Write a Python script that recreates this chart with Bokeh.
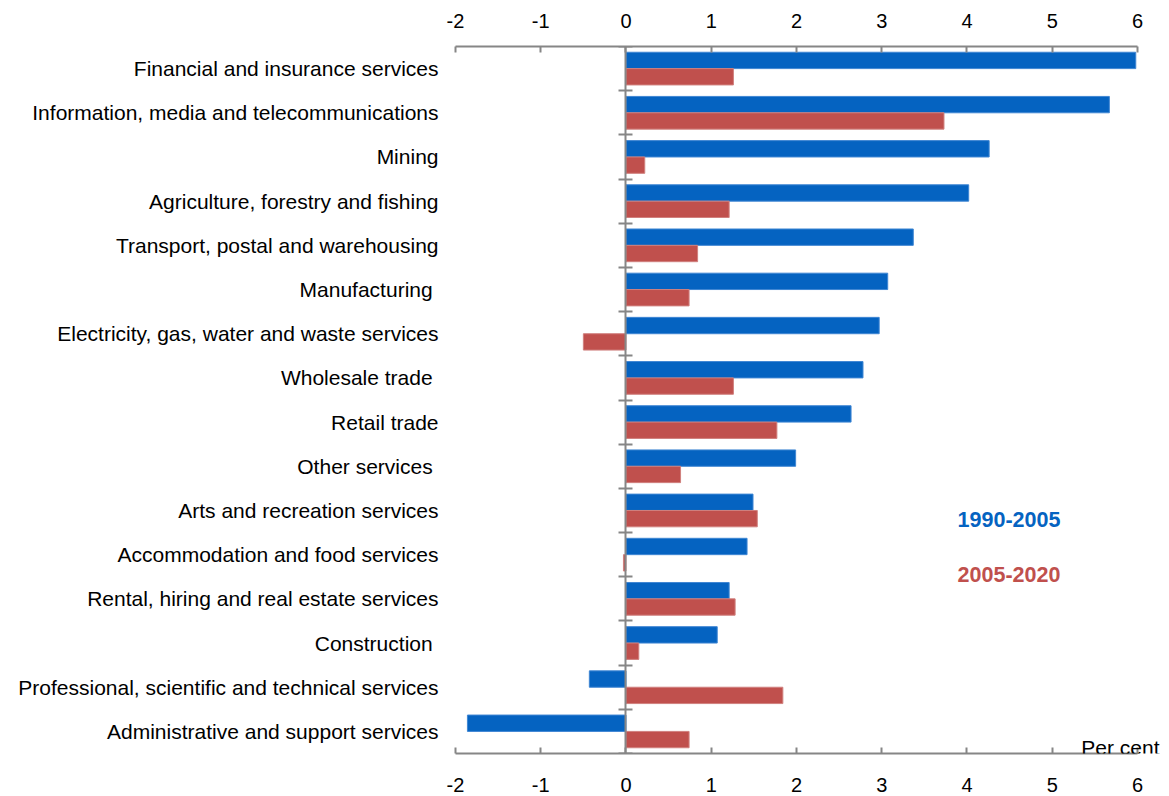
from bokeh.plotting import figure
from bokeh.models import (ColumnDataSource, Range1d, LinearAxis, FixedTicker, Label)
from bokeh.transform import dodge
from bokeh.embed import file_html
from bokeh.resources import INLINE

categories = [
    "Financial and insurance services",
    "Information, media and telecommunications",
    "Mining",
    "Agriculture, forestry and fishing",
    "Transport, postal and warehousing",
    "Manufacturing ",
    "Electricity, gas, water and waste services",
    "Wholesale trade ",
    "Retail trade",
    "Other services ",
    "Arts and recreation services",
    "Accommodation and food services",
    "Rental, hiring and real estate services",
    "Construction ",
    "Professional, scientific and technical services",
    "Administrative and support services",
]
series_1990_2005 = [5.98, 5.67, 4.26, 4.02, 3.37, 3.07, 2.97, 2.78, 2.64, 1.99,
                    1.49, 1.42, 1.21, 1.07, -0.43, -1.86]
series_2005_2020 = [1.26, 3.73, 0.22, 1.21, 0.84, 0.74, -0.50, 1.26, 1.77, 0.64,
                    1.54, -0.03, 1.28, 0.15, 1.84, 0.74]
x_ticks = [-2, -1, 0, 1, 2, 3, 4, 5, 6]
x_tick_labels = ["-2", "-1", "0", "1", "2", "3", "4", "5", "6"]
series_names = ["1990-2005", "2005-2020"]

BLUE = "#0563C1"
RED = "#C0504D"
GREY = "#868686"
FONT = "Liberation Sans"

n = len(categories)
idx = list(range(n))
src = ColumnDataSource(dict(idx=idx, a=series_1990_2005, b=series_2005_2020))

p = figure(frame_width=705, frame_height=707, output_backend="svg",
           toolbar_location=None,
           x_range=Range1d(x_ticks[0], x_ticks[-1] + 0.27),
           y_range=Range1d(n - 0.5, -0.5),
           x_axis_type=None, y_axis_type=None,
           min_border_left=455, min_border_right=9,
           min_border_top=46, min_border_bottom=43)
p.outline_line_color = None
p.xgrid.visible = False
p.ygrid.visible = False

p.hbar(y=dodge("idx", -0.185, range=p.y_range), right="a", left=0, height=0.37,
       source=src, fill_color=BLUE, line_color="#3F86D3", line_width=1)
p.hbar(y=dodge("idx", 0.185, range=p.y_range), right="b", left=0, height=0.37,
       source=src, fill_color=RED, line_color="#D0807E", line_width=1)

def x_axis(standoff):
    ax = LinearAxis(ticker=FixedTicker(ticks=x_ticks),
                    bounds=(x_ticks[0], x_ticks[-1]),
                    major_label_overrides={t: s for t, s in zip(x_ticks, x_tick_labels)})
    ax.axis_line_color = GREY
    ax.axis_line_width = 2
    ax.major_tick_line_color = GREY
    ax.major_tick_line_width = 2
    ax.major_tick_in = 6
    ax.major_tick_out = 0
    ax.minor_tick_line_color = None
    ax.major_label_text_font = FONT
    ax.major_label_text_font_size = "20px"
    ax.major_label_text_color = "#000000"
    ax.major_label_standoff = standoff
    return ax

p.add_layout(x_axis(24), "below")
p.add_layout(x_axis(19), "above")

# category labels
cat_axis = LinearAxis(ticker=FixedTicker(ticks=idx),
                      major_label_overrides={i: c for i, c in zip(idx, categories)})
cat_axis.axis_line_color = None
cat_axis.major_tick_line_color = None
cat_axis.minor_tick_line_color = None
cat_axis.major_tick_in = 0
cat_axis.major_tick_out = 0
cat_axis.major_label_standoff = 17
cat_axis.major_label_text_font = FONT
cat_axis.major_label_text_font_size = "21px"
cat_axis.major_label_text_color = "#000000"
p.add_layout(cat_axis, "left")

# zero axis with ticks between categories
zero_axis = LinearAxis(fixed_location=0,
                       ticker=FixedTicker(ticks=[i - 0.5 for i in range(n + 1)]))
zero_axis.axis_line_color = GREY
zero_axis.axis_line_width = 2
zero_axis.major_tick_line_color = GREY
zero_axis.major_tick_line_width = 2
zero_axis.major_tick_in = 7
zero_axis.major_tick_out = 7
zero_axis.minor_tick_line_color = None
zero_axis.major_label_standoff = 0
zero_axis.major_label_text_font_size = "0px"
zero_axis.major_label_text_alpha = 0
p.add_layout(zero_axis, "right")

p.add_layout(Label(x=3.89, y=10.21, text=series_names[0], text_font=FONT,
                   text_font_size="21.5px", text_font_style="bold",
                   text_color=BLUE, text_baseline="middle"))
p.add_layout(Label(x=3.89, y=11.45, text=series_names[1], text_font=FONT,
                   text_font_size="21.5px", text_font_style="bold",
                   text_color=RED, text_baseline="middle"))
p.add_layout(Label(x=x_ticks[-1], y=n - 0.5, x_offset=22, y_offset=6,
                   text="Per cent", text_font=FONT, text_font_size="21px",
                   text_color="#000000", text_align="right",
                   text_baseline="alphabetic"))

open("out.html", "w").write(file_html(p, INLINE))
